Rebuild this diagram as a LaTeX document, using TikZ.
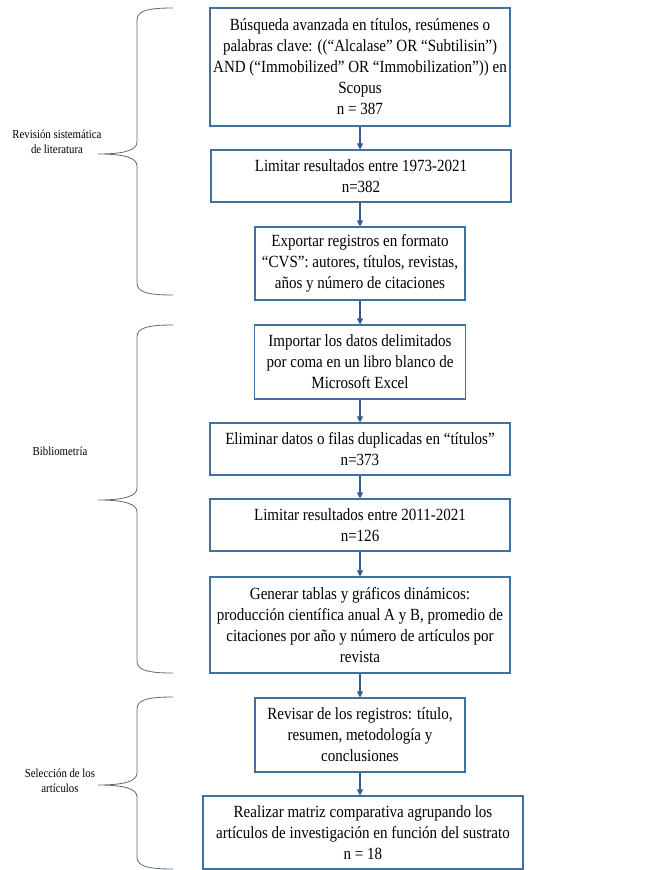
\documentclass[tikz,border=0pt]{standalone}
\usepackage{fontspec}
\setmainfont{Liberation Serif}[FakeStretch=0.88]
\usepackage{xcolor}
\usetikzlibrary{arrows.meta}
\definecolor{boxline}{RGB}{65, 113, 156}
\definecolor{arrowblue}{RGB}{52, 90, 150}
\definecolor{braceline}{RGB}{95, 105, 120}

\begin{document}
\begin{tikzpicture}[x=0.75pt, y=-0.75pt,
    stepbox/.style={draw=boxline, line width=0.8pt, align=center, inner xsep=2pt, inner ysep=0pt,
      font=\fontsize{12.8pt}{15.75pt}\selectfont},
    flow/.style={arrowblue, line width=0.8pt, -{Triangle[length=4.5pt, width=4.5pt]}},
    sidelabel/.style={align=center, font=\fontsize{9.2pt}{11.2pt}\selectfont}]
  \useasboundingbox (0,0) rectangle (651,870);

  % Steps of the method
  \node[stepbox, minimum width=225pt, minimum height=88.5pt] (busqueda) at (360,67)
    {Búsqueda avanzada en títulos, resúmenes o\\ palabras clave: ((“Alcalase” OR “Subtilisin”)\\ AND (“Immobilized” OR “Immobilization”)) en\\ Scopus\\ n = 387};
  \node[stepbox, minimum width=225pt, minimum height=39pt] (limitar1) at (361,176)
    {Limitar resultados entre 1973-2021\\ n=382};
  \node[stepbox, minimum width=157.5pt, minimum height=54.75pt] (exportar) at (360,263.5)
    {Exportar registros en formato\\ “CVS”: autores, títulos, revistas,\\ años y número de citaciones};
  \node[stepbox, minimum width=158pt, minimum height=55.5pt] (importar) at (360,362)
    {Importar los datos delimitados\\ por coma en un libro blanco de\\ Microsoft Excel};
  \node[stepbox, minimum width=225pt, minimum height=39pt] (eliminar) at (360,449)
    {Eliminar datos o filas duplicadas en “títulos”\\ n=373};
  \node[stepbox, minimum width=225pt, minimum height=39pt] (limitar2) at (360,525)
    {Limitar resultados entre 2011-2021\\ n=126};
  \node[stepbox, minimum width=225pt, minimum height=72pt] (generar) at (360,625)
    {Generar tablas y gráficos dinámicos:\\ producción científica anual A y B, promedio de\\ citaciones por año y número de artículos por\\ revista};
  \node[stepbox, minimum width=157.5pt, minimum height=55.5pt] (revisar) at (360,735)
    {Revisar de los registros: título,\\ resumen, metodología y\\ conclusiones};
  \node[stepbox, minimum width=240pt, minimum height=54.75pt] (matriz) at (363,832.5)
    {Realizar matriz comparativa agrupando los\\ artículos de investigación en función del sustrato\\ n = 18};

  % Arrows
  \foreach \a/\b in {busqueda/limitar1, limitar1/exportar, exportar/importar, importar/eliminar,
                     eliminar/limitar2, limitar2/generar, generar/revisar, revisar/matriz}
    \draw[flow] (\a.south -| 360,0) -- (\b.north -| 360,0);

  % Braces on the left
  \foreach \top/\tip/\bot in {8/154/295, 325/500/673, 697/785/869} {
    \draw[braceline, line width=0.6pt] (173,\top) .. controls (147,\top) and (137,\top+3) .. (137,\top+12)
      -- (137,\tip-12) .. controls (137,\tip-4) and (125,\tip) .. (98,\tip)
      .. controls (125,\tip) and (137,\tip+4) .. (137,\tip+12)
      -- (137,\bot-12) .. controls (137,\bot-3) and (147,\bot) .. (173,\bot);
  }

  % Phase labels
  \node[sidelabel] (lblrevision) at (57,142) {Revisión sistemática\\ de literatura};
  \node[sidelabel] (lblbiblio) at (60,451) {Bibliometría};
  \node[sidelabel] (lblseleccion) at (60,781) {Selección de los\\ artículos};
\end{tikzpicture}
\end{document}
